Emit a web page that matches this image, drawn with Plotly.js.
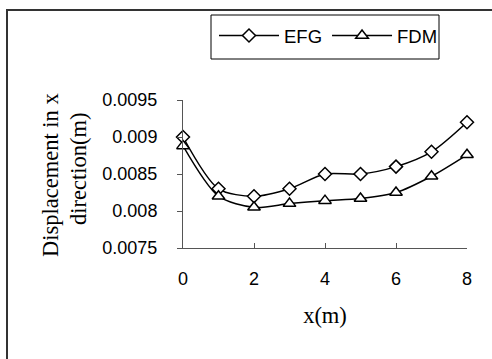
<!DOCTYPE html>
<html>
<head>
<meta charset="utf-8">
<script src="https://cdn.plot.ly/plotly-3.0.1.min.js"></script>
<style>html,body{margin:0;padding:0;background:#fff;}#chart{width:492px;height:359px;}</style>
</head>
<body>
<div id="chart"></div>
<script>
const xValues = [0, 1, 2, 3, 4, 5, 6, 7, 8];
const efgValues = [0.0090, 0.0083, 0.0082, 0.0083, 0.0085, 0.0085, 0.0086, 0.0088, 0.0092];
const fdmValues = [0.00888, 0.0082, 0.00805, 0.0081, 0.00814, 0.00817, 0.00825, 0.00847, 0.00876];
const xTicks = [0, 2, 4, 6, 8];
const yTicks = [0.0075, 0.008, 0.0085, 0.009, 0.0095];
const yTickText = ["0.0075", "0.008", "0.0085", "0.009", "0.0095"];
const yTitleLines = ['Displacement in x', 'direction(m)'];
const xTitle = 'x(m)';

const L = 183, R = 467, T = 100, B = 248, W = 492, H = 359;
const px = v => (v - L) / (R - L);
const py = v => (B - v) / (B - T);
const serif = 'Liberation Serif, Times New Roman, serif';
const sans = 'Liberation Sans, Arial, sans-serif';

const traces = [
  {x: xValues, y: efgValues, name: 'EFG', type: 'scatter', mode: 'lines+markers', cliponaxis: false,
   line: {color: '#000', width: 1.5, shape: 'spline', smoothing: 0.8},
   marker: {symbol: 'diamond', size: 10, color: '#fff', line: {color: '#000', width: 1.5}}},
  {x: xValues, y: fdmValues, name: 'FDM', type: 'scatter', mode: 'lines+markers', cliponaxis: false,
   line: {color: '#000', width: 1.5, shape: 'spline', smoothing: 0.8},
   marker: {symbol: 'triangle-up', size: 11, color: '#fff', line: {color: '#000', width: 1.5}}}
];

const layout = {
  width: W, height: H,
  margin: {l: L, r: W - R, t: T, b: H - B, pad: 0},
  paper_bgcolor: '#fff', plot_bgcolor: '#fff',
  font: {family: sans, size: 18, color: '#000'},
  showlegend: true,
  legend: {orientation: 'h', x: px(214), y: py(36), xanchor: 'left', yanchor: 'middle',
           borderwidth: 0, bgcolor: 'rgba(0,0,0,0)', itemwidth: 60,
           font: {family: sans, size: 18.5, color: '#000'}},
  xaxis: {range: [0, 8], tickvals: xTicks, ticktext: xTicks.map(String),
          showgrid: false, zeroline: false, showline: true, linecolor: '#555', linewidth: 1,
          ticks: 'inside', ticklen: 5, tickcolor: '#555', ticklabelstandoff: 14,
          title: {text: xTitle, standoff: 19, font: {family: serif, size: 22.5, color: '#000'}}},
  yaxis: {range: [0.0075, 0.0095], tickvals: yTicks, ticktext: yTickText,
          showgrid: false, zeroline: false, showline: true, linecolor: '#555', linewidth: 1,
          ticks: 'outside', ticklen: 5, tickcolor: '#555', ticklabelstandoff: 16},
  annotations: [
    {text: yTitleLines[0], xref: 'paper', yref: 'paper', x: px(50), y: py(175), xanchor: 'center', yanchor: 'middle',
     textangle: -90, showarrow: false, font: {family: serif, size: 22.5, color: '#000'}},
    {text: yTitleLines[1], xref: 'paper', yref: 'paper', x: px(78), y: py(169), xanchor: 'center', yanchor: 'middle',
     textangle: -90, showarrow: false, font: {family: serif, size: 22.5, color: '#000'}}
  ],
  shapes: [
    {type: 'line', xref: 'paper', yref: 'paper', x0: px(7), x1: px(7), y0: py(10), y1: py(370), line: {color: '#333', width: 2}},
    {type: 'line', xref: 'paper', yref: 'paper', x0: px(6), x1: px(500), y0: py(10), y1: py(10), line: {color: '#333', width: 2}},
    {type: 'rect', xref: 'paper', yref: 'paper', x0: px(211), x1: px(439), y0: py(15), y1: py(59), line: {color: '#000', width: 1}}
  ]
};

Plotly.newPlot('chart', traces, layout, {staticPlot: true, displayModeBar: false});
</script>
</body>
</html>
